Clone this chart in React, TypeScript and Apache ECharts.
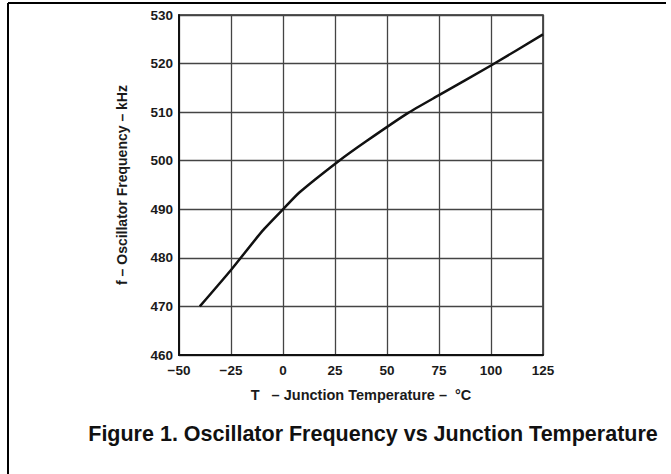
import React, { useEffect, useRef } from "react";
import * as echarts from "echarts";

const temps = [-40, -25, -10, 0, 8, 27, 40, 60, 75, 100, 125];
const freqs = [470, 477.5, 485.5, 490, 493.5, 500, 504, 509.8, 513.5, 519.6, 526];
const xTicks = [-50, -25, 0, 25, 50, 75, 100, 125];
const yTicks = [460, 470, 480, 490, 500, 510, 520, 530];
const xTitle = "T   – Junction Temperature –  °C";
const yTitle = "f – Oscillator Frequency – kHz";
const caption = "Figure 1. Oscillator Frequency vs Junction Temperature";

const FONT = "'Liberation Sans', Arial, Helvetica, sans-serif";

export default function App() {
  const ref = useRef<HTMLDivElement>(null);
  useEffect(() => {
    document.body.style.margin = "0";
    const chart = echarts.init(ref.current!, null, { renderer: "svg" });
    chart.setOption({
      animation: false,
      backgroundColor: "#ffffff",
      textStyle: { fontFamily: FONT },
      grid: { left: 179, right: 128, top: 15, bottom: 119, show: true, borderColor: "#222", borderWidth: 1.5 },
      xAxis: {
        type: "value",
        min: xTicks[0],
        max: xTicks[xTicks.length - 1],
        interval: 25,
        name: xTitle,
        nameLocation: "middle",
        nameGap: 32,
        nameTextStyle: { fontFamily: FONT, fontWeight: "bold", fontSize: 14.5, color: "#1a1a1a" },
        axisLine: { show: true, onZero: false, lineStyle: { color: "#111", width: 2 } },
        axisTick: { show: false },
        axisLabel: { fontFamily: FONT, fontWeight: "bold", fontSize: 13.5, color: "#1a1a1a", margin: 8,
          formatter: (v: number) => (v < 0 ? "\u2212" + Math.abs(v) : String(v)) },
        splitLine: { show: true, lineStyle: { color: "#444", width: 1.3 } },
      },
      yAxis: {
        type: "value",
        min: yTicks[0],
        max: yTicks[yTicks.length - 1],
        interval: 10,
        name: yTitle,
        nameLocation: "middle",
        nameGap: 50,
        nameRotate: 90,
        nameTextStyle: { fontFamily: FONT, fontWeight: "bold", fontSize: 14, color: "#1a1a1a" },
        axisLine: { show: true, onZero: false, lineStyle: { color: "#111", width: 2 } },
        axisTick: { show: false },
        axisLabel: { fontFamily: FONT, fontWeight: "bold", fontSize: 13.5, color: "#1a1a1a", margin: 6 },
        splitLine: { show: true, lineStyle: { color: "#444", width: 1.3 } },
      },
      series: [
        {
          type: "line",
          data: temps.map((t, i) => [t, freqs[i]]),
          showSymbol: false,
          smooth: 0.2,
          lineStyle: { color: "#111", width: 2.5 },
        },
      ],
      graphic: [
        { type: "line", shape: { x1: 8, y1: 3, x2: 666, y2: 3 }, style: { stroke: "#000", lineWidth: 2 } },
        { type: "line", shape: { x1: 8, y1: 3, x2: 8, y2: 474 }, style: { stroke: "#000", lineWidth: 2 } },
        {
          type: "text",
          x: 373,
          y: 434,
          style: {
            text: caption,
            fontFamily: FONT,
            fontWeight: "bold",
            fontSize: 21.5,
            fill: "#111",
            align: "center",
            verticalAlign: "middle",
          },
        },
      ],
    });
    return () => chart.dispose();
  }, []);
  return <div ref={ref} style={{ width: 671, height: 474 }} />;
}
